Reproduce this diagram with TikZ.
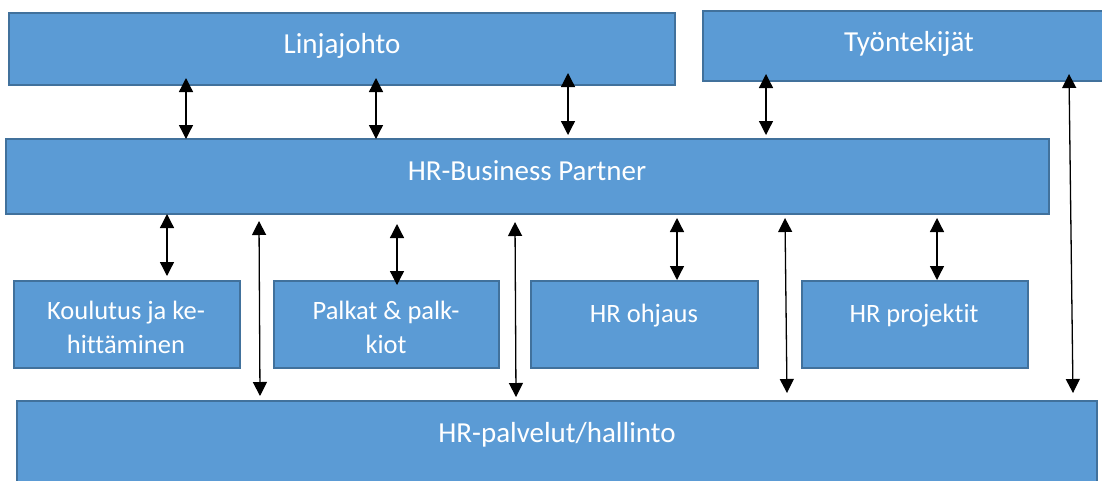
\documentclass[tikz,border=0pt]{standalone}
\usepackage{fontspec}
\setmainfont{Carlito}[Ligatures=NoCommon]
\usetikzlibrary{arrows.meta}
\definecolor{boxfill}{HTML}{5B9BD5}
\definecolor{boxline}{HTML}{41719C}
\tikzset{
  unit/.style={draw=boxline, fill=boxfill, line width=2pt},
  txt/.style={text=white, font=\fontsize{29}{34}\selectfont, inner sep=0pt, anchor=base, align=center},
  small/.style={txt, font=\fontsize{26.5}{34}\selectfont},
  arr/.style={line width=1.3pt, {Triangle[length=14pt,width=14pt]}-{Triangle[length=14pt,width=14pt]}},
}
\begin{document}
\begin{tikzpicture}[x=1pt,y=-1pt]
\useasboundingbox (0,0) rectangle (1102,480);
% boxes
\draw[unit] (9,13) rectangle (675,85);
\draw[unit] (703,11) rectangle (1110,81);
\draw[unit] (6,139) rectangle (1049,214);
\draw[unit] (14,281) rectangle (240,368);
\draw[unit] (274,281) rectangle (499,368);
\draw[unit] (531,281) rectangle (758,368);
\draw[unit] (802,281) rectangle (1028,368);
\draw[unit] (17,401) rectangle (1097,490);
% texts (two-line nodes are placed by the baseline of their last line)
\node[txt] (lj) at (342,53) {Linjajohto};
\node[txt] (ty) at (909,51) {Työntekijät};
\node[txt] (bp) at (527,180) {HR-Business Partner};
\node[small] (kh) at (126,353) {Koulutus ja ke-\\hittäminen};
\node[small] (pk) at (386,353) {Palkat \& palk-\\kiot};
\node[small] (ho) at (644,322) {HR ohjaus};
\node[small] (hp) at (914,322) {HR projektit};
\node[txt] (hr) at (557,442) {HR-palvelut/hallinto};
% arrows between Linjajohto / Työntekijät and HR-Business Partner
\coordinate (a1t) at (186,78);  \coordinate (a1b) at (186,139);
\coordinate (a2t) at (376,78);  \coordinate (a2b) at (376,139);
\coordinate (a3t) at (568,73);  \coordinate (a3b) at (568,135);
\coordinate (a4t) at (766,74);  \coordinate (a4b) at (766,135);
\draw[arr] (a1t) -- (a1b);
\draw[arr] (a2t) -- (a2b);
\draw[arr] (a3t) -- (a3b);
\draw[arr] (a4t) -- (a4b);
% long arrow from Työntekijät to HR-palvelut
\coordinate (l0t) at (1069,74); \coordinate (l0b) at (1073,393);
\draw[arr] (l0t) -- (l0b);
% arrows between HR-Business Partner and the units
\coordinate (b1t) at (167,214); \coordinate (b1b) at (167,276);
\coordinate (b2t) at (397,224); \coordinate (b2b) at (397,285);
\coordinate (b3t) at (677,218); \coordinate (b3b) at (677,280);
\coordinate (b4t) at (937,218); \coordinate (b4b) at (937,280);
\draw[arr] (b1t) -- (b1b);
\draw[arr] (b2t) -- (b2b);
\draw[arr] (b3t) -- (b3b);
\draw[arr] (b4t) -- (b4b);
% long arrows from HR-Business Partner to HR-palvelut
\coordinate (c1t) at (259,221); \coordinate (c1b) at (260,396);
\coordinate (c2t) at (515,222); \coordinate (c2b) at (516,397);
\coordinate (c3t) at (785,218); \coordinate (c3b) at (787,393);
\draw[arr] (c1t) -- (c1b);
\draw[arr] (c2t) -- (c2b);
\draw[arr] (c3t) -- (c3b);
\end{tikzpicture}
\end{document}
